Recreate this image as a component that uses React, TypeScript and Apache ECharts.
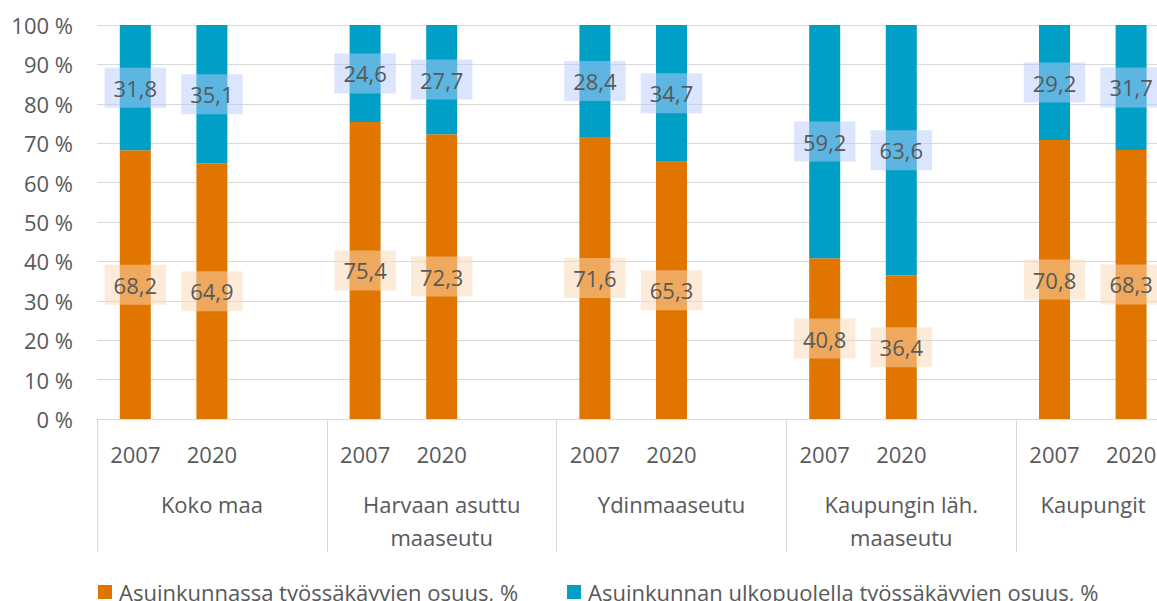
import React, { useEffect, useRef } from "react";
import * as echarts from "echarts";

const regions = [
  "Koko maa",
  "Harvaan asuttu\nmaaseutu",
  "Ydinmaaseutu",
  "Kaupungin läh.\nmaaseutu",
  "Kaupungit",
];
const years = ["2007", "2020"];
const local2007 = [68.2, 75.4, 71.6, 40.8, 70.8];
const local2020 = [64.9, 72.3, 65.3, 36.4, 68.3];
const outside2007 = [31.8, 24.6, 28.4, 59.2, 29.2];
const outside2020 = [35.1, 27.7, 34.7, 63.6, 31.7];
const yTicks = { min: 0, max: 100, interval: 10 };
const seriesNames = [
  "Asuinkunnassa työssäkäyvien osuus, %",
  "Asuinkunnan ulkopuolella työssäkäyvien osuus, %",
];

const FONT = "'Open Sans', 'Noto Sans', sans-serif";
const TXT = "#595959";
const GRIDC = "#D9D9D9";

function flat(a: number[], b: number[]) {
  const out: (number | string)[] = [];
  for (let i = 0; i < a.length; i++) out.push(a[i], b[i], "-");
  return out;
}

export default function App() {
  const ref = useRef<HTMLDivElement>(null);
  useEffect(() => {
    if (!ref.current) return;
    const chart = echarts.init(ref.current, undefined, { renderer: "svg" });
    const cats: string[] = [];
    regions.forEach(() => cats.push(years[0], years[1], ""));
    const regionData = regions.map((r, i) =>
      i === regions.length - 1
        ? { value: r, textStyle: { padding: [0, 76, 0, 0] } }
        : r
    );
    const fmt = (p: any) => Number(p.value).toFixed(1).replace(".", ",");
    const label = (bg: string) => ({
      show: true,
      position: "inside",
      formatter: fmt,
      fontSize: 22,
      fontFamily: FONT,
      color: TXT,
      lineHeight: 24,
      backgroundColor: bg,
      padding: [8, 9, 8, 9],
    });
    const legendText = {
      fontSize: 22,
      color: TXT,
      fontFamily: FONT,
      lineHeight: 24,
      padding: [0, 0, 0, 2],
    };
    chart.setOption({
      animation: false,
      backgroundColor: "#fff",
      textStyle: { fontFamily: FONT },
      grid: { left: 97, top: 25, width: 1149, height: 394 },
      legend: [
        {
          left: 93,
          top: 575,
          data: [seriesNames[0]],
          icon: "rect",
          itemWidth: 14,
          itemHeight: 14,
          textStyle: legendText,
        },
        {
          left: 562,
          top: 575,
          data: [seriesNames[1]],
          icon: "rect",
          itemWidth: 14,
          itemHeight: 14,
          textStyle: legendText,
        },
      ],
      xAxis: [
        {
          type: "category",
          data: cats,
          position: "bottom",
          axisLine: { lineStyle: { color: GRIDC } },
          axisTick: { show: false },
          axisLabel: {
            interval: 0,
            fontSize: 22,
            color: TXT,
            fontFamily: FONT,
            margin: 22,
            lineHeight: 26,
          },
        },
        {
          type: "category",
          data: regionData,
          position: "bottom",
          axisLine: { show: false },
          axisTick: { show: true, length: 133, lineStyle: { color: GRIDC } },
          axisLabel: {
            interval: 0,
            fontSize: 22,
            color: TXT,
            fontFamily: FONT,
            margin: 68,
            lineHeight: 33,
          },
        },
      ],
      yAxis: {
        type: "value",
        min: yTicks.min,
        max: yTicks.max,
        interval: yTicks.interval,
        axisLine: { show: false },
        axisTick: { show: false },
        splitLine: { lineStyle: { color: GRIDC } },
        axisLabel: {
          formatter: "{value} %",
          fontSize: 22,
          color: TXT,
          fontFamily: FONT,
          margin: 24,
        },
      },
      series: [
        {
          name: seriesNames[0],
          type: "bar",
          stack: "total",
          xAxisIndex: 0,
          barWidth: 31,
          itemStyle: { color: "#E07600" },
          label: label("rgba(251,216,182,0.52)"),
          data: flat(local2007, local2020),
        },
        {
          name: seriesNames[1],
          type: "bar",
          stack: "total",
          xAxisIndex: 0,
          barWidth: 31,
          itemStyle: { color: "#00A0C6" },
          label: label("rgba(183,203,251,0.5)"),
          data: flat(outside2007, outside2020),
        },
      ],
    });
    return () => chart.dispose();
  }, []);
  return (
    <div
      style={{
        position: "fixed",
        left: 0,
        top: 0,
        width: 1157,
        height: 601,
        overflow: "hidden",
        background: "#fff",
      }}
    >
      <div ref={ref} style={{ width: 1260, height: 601 }} />
    </div>
  );
}
